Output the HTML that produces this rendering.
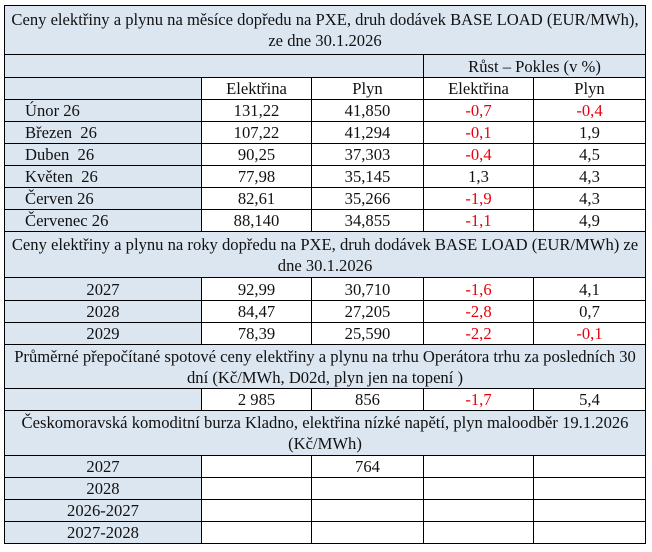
<!DOCTYPE html>
<html><head><meta charset="utf-8"><style>
body{margin:0;background:#fff;}
table{position:absolute;left:4px;top:5px;border-collapse:collapse;table-layout:fixed;width:641px;font-family:"Liberation Serif",serif;font-size:16.6px;color:#111;}
td{border:1px solid #000;padding:0;text-align:center;white-space:nowrap;line-height:21px;overflow:hidden;}
.b{background:#dce6f1;}
.l{text-align:left;padding-left:20px;}
.r{color:#e8000b;}
</style></head><body>
<table>
<colgroup><col style="width:197px"><col style="width:110px"><col style="width:112px"><col style="width:110px"><col style="width:112px"></colgroup>
<tr style="height:49px"><td class="b" colspan="5">Ceny elektřiny a plynu na měsíce dopředu na PXE, druh dodávek BASE LOAD (EUR/MWh),<br>ze dne 30.1.2026</td></tr>
<tr style="height:23px"><td class="b" colspan="3"></td><td class="b" colspan="2">Růst – Pokles (v %)</td></tr>
<tr style="height:22px"><td class="b"></td><td>Elektřina</td><td>Plyn</td><td>Elektřina</td><td>Plyn</td></tr>
<tr style="height:22px"><td class="b l">Únor 26</td><td>131,22</td><td>41,850</td><td class="r">-0,7</td><td class="r">-0,4</td></tr>
<tr style="height:22px"><td class="b l">Březen&nbsp; 26</td><td>107,22</td><td>41,294</td><td class="r">-0,1</td><td>1,9</td></tr>
<tr style="height:22px"><td class="b l">Duben&nbsp; 26</td><td>90,25</td><td>37,303</td><td class="r">-0,4</td><td>4,5</td></tr>
<tr style="height:22px"><td class="b l">Květen&nbsp; 26</td><td>77,98</td><td>35,145</td><td>1,3</td><td>4,3</td></tr>
<tr style="height:22px"><td class="b l">Červen 26</td><td>82,61</td><td>35,266</td><td class="r">-1,9</td><td>4,3</td></tr>
<tr style="height:22px"><td class="b l">Červenec 26</td><td>88,140</td><td>34,855</td><td class="r">-1,1</td><td>4,9</td></tr>
<tr style="height:46px"><td class="b" colspan="5">Ceny elektřiny a plynu na roky dopředu na PXE, druh dodávek BASE LOAD (EUR/MWh) ze<br>dne 30.1.2026</td></tr>
<tr style="height:23px"><td class="b">2027</td><td>92,99</td><td>30,710</td><td class="r">-1,6</td><td>4,1</td></tr>
<tr style="height:22px"><td class="b">2028</td><td>84,47</td><td>27,205</td><td class="r">-2,8</td><td>0,7</td></tr>
<tr style="height:22px"><td class="b">2029</td><td>78,39</td><td>25,590</td><td class="r">-2,2</td><td class="r">-0,1</td></tr>
<tr style="height:44px"><td class="b" colspan="5">Průměrné přepočítané spotové ceny elektřiny a plynu na trhu Operátora trhu za posledních 30<br>dní (Kč/MWh, D02d, plyn jen na topení )</td></tr>
<tr style="height:22px"><td class="b"></td><td>2 985</td><td>856</td><td class="r">-1,7</td><td>5,4</td></tr>
<tr style="height:45px"><td class="b" colspan="5">Českomoravská komoditní burza Kladno, elektřina nízké napětí, plyn maloodběr 19.1.2026<br>(Kč/MWh)</td></tr>
<tr style="height:22px"><td class="b">2027</td><td></td><td>764</td><td></td><td></td></tr>
<tr style="height:22px"><td class="b">2028</td><td></td><td></td><td></td><td></td></tr>
<tr style="height:22px"><td class="b">2026-2027</td><td></td><td></td><td></td><td></td></tr>
<tr style="height:22px"><td class="b">2027-2028</td><td></td><td></td><td></td><td></td></tr>
</table>
</body></html>
